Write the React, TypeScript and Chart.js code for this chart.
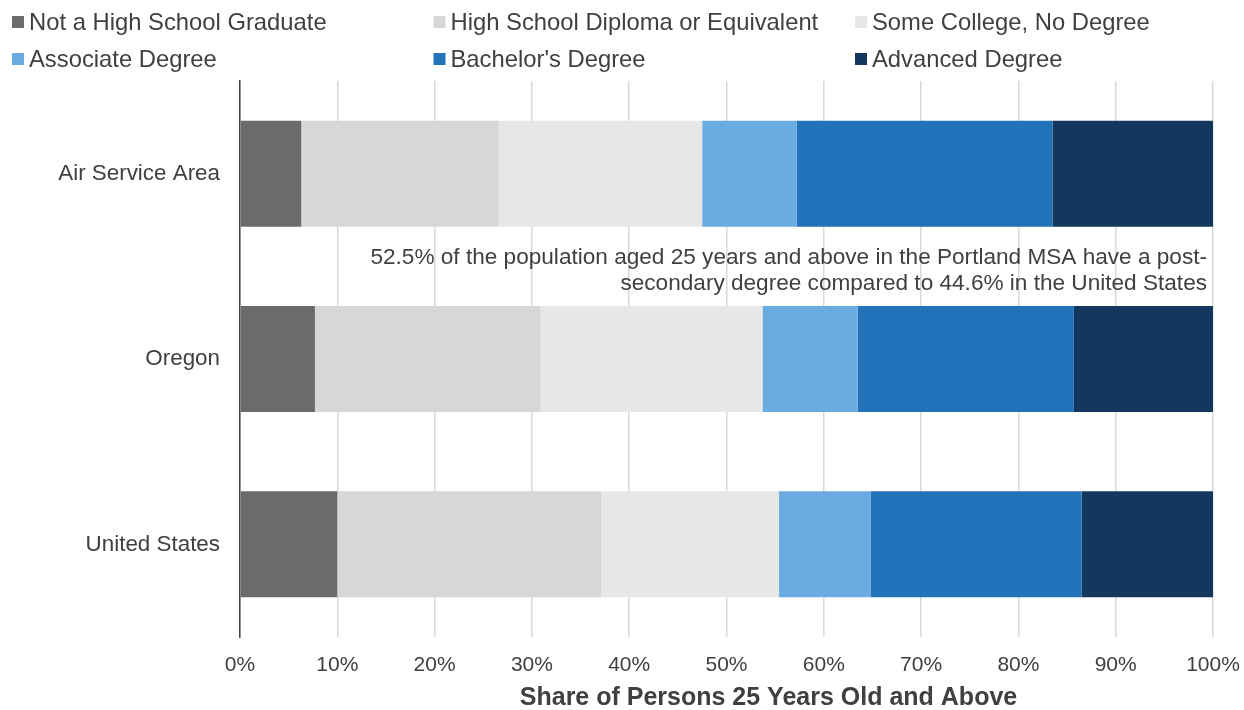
import React, { useEffect, useRef } from 'react';
import { Chart, registerables } from 'chart.js';

Chart.register(...registerables);

// Educational attainment, share of persons 25 years old and above (%)
const regions = ['Air Service Area', 'Oregon', 'United States'];
const seriesNames = [
  'Not a High School Graduate',
  'High School Diploma or Equivalent',
  'Some College, No Degree',
  'Associate Degree',
  "Bachelor's Degree",
  'Advanced Degree',
];
const notHighSchool = [6.3, 7.7, 10.0];
const highSchool = [20.3, 23.2, 27.1];
const someCollege = [20.9, 22.8, 18.3];
const associate = [9.7, 9.8, 9.4];
const bachelor = [26.3, 22.2, 21.7];
const advanced = [16.5, 14.3, 13.5];
const seriesColors = ['#6b6b6b', '#d7d7d7', '#e7e7e7', '#6aabe2', '#2272ba', '#14385d'];
const xTicks = [0, 10, 20, 30, 40, 50, 60, 70, 80, 90, 100];
const xTitle = 'Share of Persons 25 Years Old and Above';
const noteLines = [
  '52.5% of the population aged 25 years and above in the Portland MSA have a post-',
  'secondary degree compared to 44.6% in the United States',
];

const FONT = "'Liberation Sans', Arial, Helvetica, sans-serif";
const TEXT = '#404040';

// Three-column legend laid out above the plot area
const gridLegend = {
  id: 'gridLegend',
  afterDraw(chart: any) {
    const { ctx } = chart;
    ctx.save();
    ctx.font = `23.8px ${FONT}`;
    ctx.textBaseline = 'middle';
    ctx.textAlign = 'left';
    chart.data.datasets.forEach((ds: any, i: number) => {
      const col = i % 3;
      const row = Math.floor(i / 3);
      const x = 12 + col * 421.5;
      const y = 22 + row * 37;
      ctx.fillStyle = ds.backgroundColor;
      ctx.fillRect(x, y - 6, 12, 12);
      ctx.fillStyle = TEXT;
      ctx.fillText(ds.label, x + 17, y + 1);
    });
    ctx.restore();
  },
};

// Right-aligned note between the first two bars, plus the x-axis title
const annotations = {
  id: 'annotations',
  afterDraw(chart: any) {
    const { ctx, chartArea } = chart;
    const yScale = chart.scales.y;
    const xScale = chart.scales.x;
    const mid = yScale.getPixelForValue(0.5);
    ctx.save();
    ctx.font = `22.6px ${FONT}`;
    ctx.fillStyle = TEXT;
    ctx.textAlign = 'right';
    ctx.textBaseline = 'middle';
    ctx.fillText(noteLines[0], chartArea.right - 6, mid - 9);
    ctx.fillText(noteLines[1], chartArea.right - 6, mid + 17);

    ctx.font = `bold 25px ${FONT}`;
    ctx.textAlign = 'center';
    const cx = (chartArea.left + chartArea.right) / 2 + 42;
    ctx.fillText(xTitle, cx, xScale.bottom - 12);
    ctx.restore();
  },
};

export default function App() {
  const canvasRef = useRef<HTMLCanvasElement | null>(null);

  useEffect(() => {
    if (!canvasRef.current) return;
    const values = [notHighSchool, highSchool, someCollege, associate, bachelor, advanced];
    const chart = new Chart(canvasRef.current, {
      type: 'bar',
      data: {
        labels: regions,
        datasets: seriesNames.map((name, i) => ({
          label: name,
          data: values[i],
          backgroundColor: seriesColors[i],
          borderWidth: 0,
          barPercentage: 0.572,
          categoryPercentage: 1,
        })),
      },
      options: {
        indexAxis: 'y',
        responsive: false,
        animation: false,
        layout: { padding: { top: 81, right: 31, bottom: 0, left: 0 } },
        plugins: {
          legend: { display: false },
          tooltip: { enabled: false },
        },
        scales: {
          x: {
            stacked: true,
            min: 0,
            max: 100,
            afterBuildTicks: (scale: any) => {
              scale.ticks = xTicks.map((v) => ({ value: v }));
            },
            afterFit: (scale: any) => {
              scale.height = 73;
              scale.paddingLeft = 0;
              scale.paddingRight = 0;
            },
            ticks: {
              callback: (v: any) => `${v}%`,
              color: TEXT,
              font: { family: FONT, size: 21 },
              padding: 16,
              maxRotation: 0,
            },
            grid: { color: '#d9d9d9', lineWidth: 1.5, drawTicks: false },
            border: { display: false },
            title: { display: false },
          },
          y: {
            stacked: true,
            afterFit: (scale: any) => {
              scale.width = 240;
            },
            ticks: {
              color: TEXT,
              font: { family: FONT, size: 22.4 },
              padding: 20,
            },
            grid: { display: false, drawTicks: false },
            border: { display: true, color: '#404040', width: 1.5 },
          },
        },
      },
      plugins: [gridLegend, annotations],
    });
    return () => chart.destroy();
  }, []);

  return (
    <div style={{ position: 'fixed', left: 0, top: 0, width: 1244, height: 710, background: '#fff' }}>
      <canvas ref={canvasRef} width={1244} height={710} style={{ display: 'block' }} />
    </div>
  );
}
